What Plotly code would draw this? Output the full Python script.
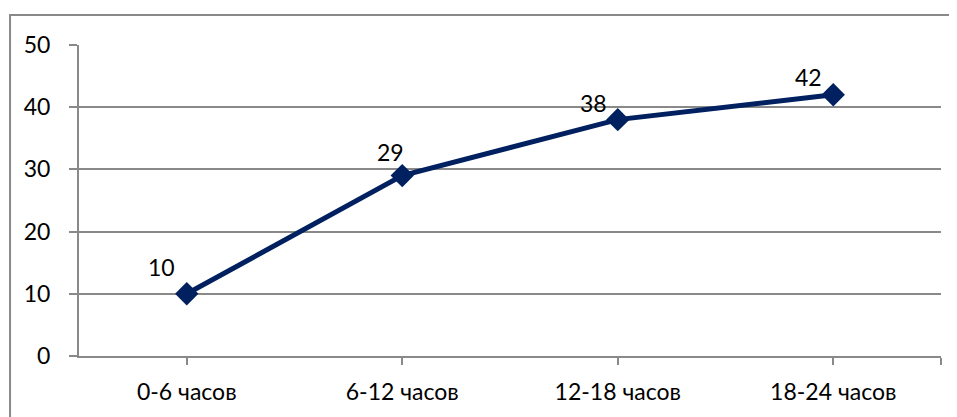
import plotly.graph_objects as go

categories = ['0-6 часов', '6-12 часов', '12-18 часов', '18-24 часов']
values = [10, 29, 38, 42]
y_ticks = [0, 10, 20, 30, 40, 50]

# label offsets (px) relative to each marker, as in the original chart
label_dx = [-25, -12, -24, -25]
label_dy = [27, 24, 17, 18]

grey = '#898989'
navy = '#002060'
font = dict(family='Lato, Calibri, sans-serif', size=23, color='#000000')

xs = list(range(len(categories)))

fig = go.Figure()
fig.add_trace(go.Scatter(
    x=xs, y=values,
    mode='lines+markers',
    line=dict(color=navy, width=5),
    marker=dict(symbol='diamond', size=18, color=navy),
    showlegend=False,
    hoverinfo='skip',
))

for x, v, dx, dy in zip(xs, values, label_dx, label_dy):
    fig.add_annotation(x=x, y=v, text=str(v), showarrow=False,
                       xshift=dx, yshift=dy, font=font)

# outer chart frame (right and bottom edges run off the picture)
fig.add_shape(type='rect', xref='paper', yref='paper',
              x0=-0.080, x1=1.04, y0=-0.24, y1=1.0965,
              line=dict(color=grey, width=2), layer='below')

# page body has an 8px margin, so the figure is 8px smaller than the window
fig.update_layout(
    width=949, height=409,
    margin=dict(l=71, r=16, t=37, b=61),
    paper_bgcolor='white', plot_bgcolor='white',
    font=font,
    xaxis=dict(
        range=[-0.5, len(categories) - 0.5],
        tickvals=xs + [len(categories) - 0.5],
        ticktext=categories + [''],
        ticks='outside', ticklen=7, tickwidth=2, tickcolor=grey,
        showline=True, linecolor=grey, linewidth=2,
        showgrid=False, zeroline=False,
        ticklabelstandoff=7,
    ),
    yaxis=dict(
        range=[0, 50],
        tickvals=y_ticks,
        ticks='outside', ticklen=8, tickwidth=2, tickcolor=grey,
        showline=True, linecolor=grey, linewidth=2,
        showgrid=True, gridcolor=grey, gridwidth=2,
        zeroline=False,
        ticklabelstandoff=14,
    ),
)

fig.write_html('out.html')
